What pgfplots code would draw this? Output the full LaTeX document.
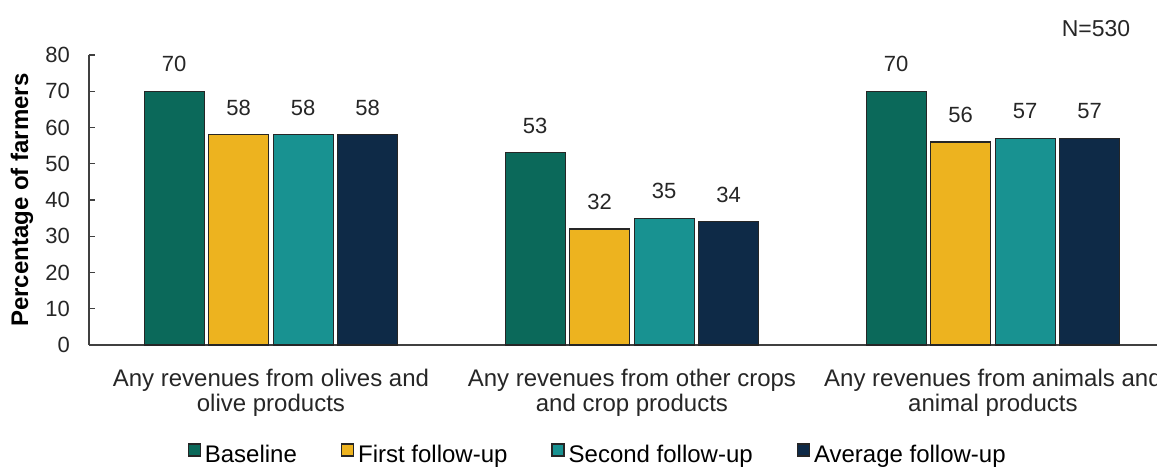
\documentclass[border=0pt]{standalone}
\usepackage{pgfplots}
\pgfplotsset{compat=1.18}
\usepackage{fontspec}
\setmainfont{Liberation Sans}
\usetikzlibrary{calc}
\definecolor{cBase}{RGB}{11,105,90}
\definecolor{cFirst}{RGB}{237,179,31}
\definecolor{cSecond}{RGB}{24,146,145}
\definecolor{cAvg}{RGB}{14,42,71}
\begin{document}
\begin{tikzpicture}
\begin{axis}[
  name=ax,
  scale only axis,
  width=542.2pt, height=145pt,
  ybar=2.25pt, bar width=30pt,
  xmin=-0.504, xmax=2.5,
  ymin=0, ymax=80,
  ytick={0,10,...,80},
  xtick={0,1,2},
  xticklabels={Any revenues from olives and\\olive products,
               Any revenues from other crops\\and crop products,
               Any revenues from animals and\\animal products},
  axis lines=left,
  axis line style={black!75, -, line width=0.7pt},
  y axis line style={-},
  x axis line style={-},
  tick align=inside,
  major tick length=3pt,
  every tick/.style={black!75, line width=0.7pt},
  xtick style={draw=none},
  /pgf/number format/assume math mode=true,
  yticklabel style={font=\fontsize{11}{12}\selectfont, xshift=-6pt, text=black!85},
  xticklabel style={font=\fontsize{12}{12.5}\selectfont, align=center, yshift=-8.5pt, text=black!85},
  ylabel={Percentage of farmers},
  every axis y label/.style={at={(axis description cs:0,0.5)}, xshift=-33.5pt, rotate=90, anchor=center, font=\bfseries\fontsize{12}{13}\selectfont},
  nodes near coords,
  every node near coord/.append style={font=\fontsize{11}{12}\selectfont, yshift=6pt, text=black!85},
  clip=false,
  legend columns=4,
  legend style={at={(0.47,-0.379)}, anchor=center, draw=none,
    font=\fontsize{12}{13}\selectfont,
    /tikz/every even column/.append style={column sep=20pt}},
  legend image code/.code={\draw[#1, draw=black!85, line width=0.6pt] (0pt,-0.5pt) rectangle (6pt,5.5pt);},
]
\addplot[fill=cBase, draw=black!85, line width=0.6pt] coordinates {(0,70) (1,53) (2,70)};
\addplot[fill=cFirst, draw=black!85, line width=0.6pt] coordinates {(0,58) (1,32) (2,56)};
\addplot[fill=cSecond, draw=black!85, line width=0.6pt] coordinates {(0,58) (1,35) (2,57)};
\addplot[fill=cAvg, draw=black!85, line width=0.6pt] coordinates {(0,58) (1,34) (2,57)};
\legend{Baseline, First follow-up, Second follow-up, Average follow-up}
\node[anchor=east, font=\fontsize{11.5}{12}\selectfont, text=black!85] at (axis cs:2.40,87.4) {N=530};
\end{axis}
\pgfresetboundingbox
\path[use as bounding box] ($(ax.south west)+(-44.5pt,-61.5pt)$) rectangle ++(578.5pt,234pt);
\end{tikzpicture}
\end{document}
